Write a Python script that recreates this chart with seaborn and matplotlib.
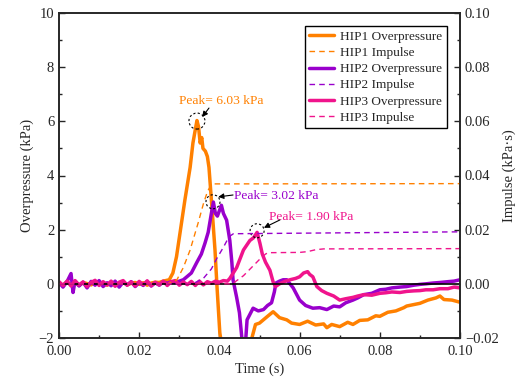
import numpy as np
import pandas as pd
import matplotlib
matplotlib.use("Agg")
import matplotlib.pyplot as plt
from matplotlib.patches import Ellipse
import seaborn as sns

# ---------------- data ----------------
# HIP1 overpressure (kPa)
t1 = [0.000, 0.001, 0.002, 0.003, 0.004, 0.005, 0.006, 0.007, 0.008, 0.009, 0.010, 0.011, 0.012,
      0.013, 0.014, 0.015, 0.016, 0.017, 0.018, 0.019, 0.020, 0.021, 0.022, 0.023, 0.024, 0.025,
      0.026, 0.0275, 0.0284, 0.0293, 0.0302, 0.0314, 0.0327, 0.0334, 0.0340, 0.0344, 0.0348,
      0.0352, 0.0356, 0.0359, 0.0365, 0.0370, 0.0374, 0.0377, 0.0382, 0.0389, 0.0394, 0.0401,
      0.0406, 0.0440, 0.0475, 0.0481, 0.0490, 0.0500, 0.0520, 0.0534, 0.0550, 0.0568, 0.0580,
      0.0600, 0.0620, 0.0640, 0.0660, 0.0668, 0.0680, 0.0700, 0.0720, 0.0733, 0.0750, 0.0770,
      0.0790, 0.0800, 0.0820, 0.0840, 0.0860, 0.0867, 0.0880, 0.0900, 0.0920, 0.0940, 0.0950,
      0.0960, 0.0980, 0.1000]
p1 = [0.02, -0.05, 0.07, -0.03, 0.04, -0.06, 0.05, 0.01, -0.04, 0.06, -0.02, 0.03, -0.05,
      0.04, 0.00, -0.03, 0.06, -0.04, 0.02, 0.05, -0.02, 0.04, -0.05, 0.03, 0.06, 0.05,
      0.10, 0.15, 0.40, 1.00, 1.90, 3.10, 4.30, 5.20, 5.70, 6.03, 5.80,
      5.20, 5.40, 5.00, 4.90, 4.70, 4.30, 3.70, 2.70, 1.25, -0.10, -1.80,
      -2.30, -3.00, -2.30, -2.00, -1.50, -1.45, -1.20, -1.03, -1.25, -1.33, -1.45,
      -1.50, -1.38, -1.52, -1.48, -1.62, -1.50, -1.58, -1.42, -1.50, -1.35, -1.33,
      -1.18, -1.20, -1.05, -1.00, -0.88, -0.82, -0.78, -0.72, -0.60, -0.52, -0.45,
      -0.58, -0.60, -0.68]

# HIP2 overpressure (kPa)
t2 = [0.000, 0.001, 0.002, 0.003, 0.0035, 0.004, 0.005, 0.006, 0.007, 0.008, 0.009, 0.010,
      0.011, 0.012, 0.013, 0.014, 0.015, 0.016, 0.017, 0.018, 0.019, 0.020, 0.021, 0.022,
      0.023, 0.024, 0.025, 0.026, 0.027, 0.028, 0.029, 0.030, 0.0310, 0.0330, 0.0344, 0.0355,
      0.0364, 0.0372, 0.0380, 0.0385, 0.0390, 0.0395, 0.0400, 0.0405, 0.0410, 0.0418, 0.0426,
      0.0431, 0.0434, 0.0443, 0.0450, 0.0456, 0.0460, 0.0465, 0.0469, 0.0477, 0.0484, 0.0497,
      0.0510, 0.0520, 0.0530, 0.0537, 0.0541, 0.0550, 0.0559, 0.0568, 0.0584, 0.0600, 0.0615,
      0.0633, 0.0650, 0.0668, 0.0685, 0.0700, 0.0715, 0.0733, 0.0745, 0.0760, 0.0780, 0.0800,
      0.0815, 0.0830, 0.0850, 0.0867, 0.0885, 0.0900, 0.0915, 0.0933, 0.0950, 0.0970, 0.0985,
      0.1000]
p2 = [0.05, -0.12, 0.08, 0.38, -0.32, 0.10, -0.08, 0.06, -0.15, 0.09, -0.05, 0.12,
      -0.10, 0.04, -0.07, 0.10, -0.12, 0.06, -0.04, 0.08, -0.10, 0.05, -0.06, 0.09,
      -0.08, 0.04, -0.05, 0.07, 0.02, 0.08, 0.05, 0.10, 0.15, 0.40, 0.80, 1.10,
      1.50, 1.90, 2.60, 3.02, 2.60, 2.50, 2.70, 2.90, 2.60, 2.35, 1.60,
      0.80, 0.15, -0.50, -1.07, -2.00, -2.60, -2.20, -1.33, -1.10, -0.90, -1.00,
      -0.95, -0.80, -0.70, -0.30, 0.03, 0.10, 0.15, 0.15, -0.15, -0.60, -0.80,
      -0.90, -0.88, -0.95, -0.82, -0.85, -0.70, -0.60, -0.52, -0.40, -0.35, -0.22,
      -0.20, -0.15, -0.12, -0.10, -0.05, -0.02, 0.00, 0.03, 0.05, 0.08, 0.10,
      0.15]

# HIP3 overpressure (kPa)
t3 = [0.000, 0.001, 0.002, 0.003, 0.004, 0.005, 0.006, 0.007, 0.008, 0.009, 0.010, 0.011,
      0.012, 0.013, 0.014, 0.015, 0.016, 0.017, 0.018, 0.019, 0.020, 0.021, 0.022, 0.023,
      0.024, 0.025, 0.026, 0.027, 0.028, 0.029, 0.030, 0.031, 0.032, 0.033, 0.034, 0.035,
      0.036, 0.037, 0.038, 0.039, 0.040, 0.041, 0.042, 0.0426, 0.0443, 0.0460, 0.0476, 0.0485,
      0.0494, 0.0501, 0.0507, 0.0515, 0.0526, 0.0534, 0.0540, 0.0550, 0.0565, 0.0576, 0.0590,
      0.0600, 0.0610, 0.0620, 0.0625, 0.0633, 0.0643, 0.0655, 0.0668, 0.0685, 0.0700, 0.0715,
      0.0733, 0.0745, 0.0760, 0.0780, 0.0800, 0.0815, 0.0830, 0.0850, 0.0867, 0.0885, 0.0900,
      0.0915, 0.0933, 0.0950, 0.0970, 0.0985, 0.1000]
p3 = [0.08, -0.06, 0.10, -0.08, 0.12, -0.04, 0.07, -0.10, 0.05, 0.13, -0.06, 0.08,
      -0.04, 0.10, -0.09, 0.06, 0.12, -0.05, 0.07, -0.08, 0.09, -0.03, 0.11, -0.07,
      0.06, -0.04, 0.10, -0.06, 0.08, 0.12, -0.05, 0.07, -0.03, 0.09, -0.06, 0.10,
      -0.04, 0.08, 0.02, 0.10, 0.06, 0.12, 0.10, 0.20, 0.60, 1.25, 1.60, 1.70,
      1.90, 1.50, 1.10, 0.80, 0.50, 0.07, -0.10, 0.00, 0.10, 0.15, 0.20,
      0.26, 0.40, 0.45, 0.35, 0.26, -0.10, -0.25, -0.35, -0.45, -0.60, -0.55,
      -0.50, -0.45, -0.40, -0.42, -0.35, -0.33, -0.30, -0.32, -0.28, -0.26, -0.25,
      -0.22, -0.22, -0.18, -0.18, -0.12, -0.15]

# Impulse (kPa·s)
ti1 = [0.000, 0.0270, 0.0280, 0.0294, 0.0310, 0.0327, 0.0347, 0.0360, 0.0370, 0.0378, 0.0384, 0.1000]
imp1 = [0.0, 0.0, 0.0005, 0.0015, 0.0060, 0.0125, 0.0225, 0.0295, 0.0340, 0.0362, 0.0369, 0.0370]
ti2 = [0.000, 0.0320, 0.0340, 0.0360, 0.0380, 0.0394, 0.0410, 0.0419, 0.0428, 0.0435, 0.0600, 0.1000]
imp2 = [0.0, 0.0, 0.0005, 0.0020, 0.0055, 0.0095, 0.0135, 0.0160, 0.0178, 0.0185, 0.0187, 0.0192]
ti3 = [0.000, 0.0425, 0.0435, 0.0460, 0.0480, 0.0500, 0.0515, 0.0522, 0.0600, 0.0620, 0.0640, 0.0660, 0.1000]
imp3 = [0.0, 0.0, 0.0003, 0.0030, 0.0060, 0.0090, 0.0110, 0.0115, 0.0116, 0.0119, 0.0126, 0.0129, 0.0130]

labels_p = ["HIP1 Overpressure", "HIP2 Overpressure", "HIP3 Overpressure"]
labels_i = ["HIP1 Impulse", "HIP2 Impulse", "HIP3 Impulse"]
colors = ["#FF8000", "#9900CC", "#F0148C"]
peaks = ["Peak= 6.03 kPa", "Peak= 3.02 kPa", "Peak= 1.90 kPa"]

# ---------------- style ----------------
sns.set_style("ticks")
plt.rcParams["font.family"] = ["Liberation Serif", "DejaVu Serif"]
plt.rcParams["axes.linewidth"] = 1.2

fig = plt.figure(figsize=(5.2, 3.87), dpi=100)
ax = fig.add_axes([59 / 520, 49 / 387, 401 / 520, 325 / 387])
ax2 = ax.twinx()

handles = []
for tt, pp, lab, c in zip([t1, t2, t3], [p1, p2, p3], labels_p, colors):
    df = pd.DataFrame({"t": tt, "p": pp})
    sns.lineplot(data=df, x="t", y="p", ax=ax, color=c, lw=2.5, sort=False,
                 estimator=None, label=lab, legend=False)
    handles.append(ax.lines[-1])

ax.axhline(0, color="black", lw=1.2, zorder=5)

ihandles = []
for tt, ii, lab, c in zip([ti1, ti2, ti3], [imp1, imp2, imp3], labels_i, colors):
    df = pd.DataFrame({"t": tt, "i": ii})
    sns.lineplot(data=df, x="t", y="i", ax=ax2, color=c, lw=1.0, sort=False,
                 estimator=None, label=lab, legend=False, dashes=False)
    ln = ax2.lines[-1]
    ln.set_linestyle((0, (4, 3)))
    ihandles.append(ln)

ax.set_xlim(0, 0.10)
ax.set_ylim(-2, 10)
ax2.set_ylim(-0.02, 0.10)
ax.set_xticks([0.00, 0.02, 0.04, 0.06, 0.08, 0.10])
ax.set_xticklabels(["0.00", "0.02", "0.04", "0.06", "0.08", "0.10"])
ax.set_xticks([0.01, 0.03, 0.05, 0.07, 0.09], minor=True)
ax.set_yticks([-2, 0, 2, 4, 6, 8, 10])
ax.set_yticklabels(["\u22122", "0", "2", "4", "6", "8", "10"])
ax.set_yticks([-1, 1, 3, 5, 7, 9], minor=True)
ax2.set_yticks([-0.02, 0.00, 0.02, 0.04, 0.06, 0.08, 0.10])
ax2.set_yticklabels(["\u22120.02", "0.00", "0.02", "0.04", "0.06", "0.08", "0.10"])
ax2.set_yticks([-0.01, 0.01, 0.03, 0.05, 0.07, 0.09], minor=True)

for a in (ax, ax2):
    a.tick_params(which="major", direction="in", length=4.3, width=1.0, labelsize=10.5)
    a.tick_params(which="minor", direction="in", length=2.0, width=1.0)
    for s in a.spines.values():
        s.set_linewidth(1.2)
ax.tick_params(axis="x", pad=5)

ax.set_xlabel("Time (s)", fontsize=10.5, labelpad=3)
ax.set_ylabel("Overpressure (kPa)", fontsize=10.5, labelpad=3)
ax2.set_ylabel("Impulse (kPa\u00b7s)", fontsize=10.5, labelpad=3)

# peak markers and annotations
circ = [(0.0344, 6.01, 8), (0.0384, 3.03, 7), (0.0494, 1.96, 7)]
txt = [(0.0299, 6.75), (0.0436, 3.25), (0.0524, 2.47)]
arr_from = [(0.0374, 6.49), (0.0434, 3.28), (0.0551, 2.36)]
arr_to = [(0.0357, 6.16), (0.0397, 3.21), (0.0511, 2.07)]
for (cx, cy, r), (tx, ty), af, at, lab, c in zip(circ, txt, arr_from, arr_to, peaks, colors):
    w = 2 * r * 0.10 / 401
    h = 2 * r * 12 / 325
    ax.add_patch(Ellipse((cx, cy), w, h, fill=False, ec="black", lw=0.8,
                         ls=(0, (2, 2)), zorder=6))
    ax.text(tx, ty, lab, color=c, fontsize=9.7, ha="left", va="center", zorder=7)
    ax.annotate("", xy=at, xytext=af,
                arrowprops=dict(arrowstyle="-|>", color="black", lw=0.8,
                                mutation_scale=8, shrinkA=0, shrinkB=0), zorder=7)

order = [handles[0], ihandles[0], handles[1], ihandles[1], handles[2], ihandles[2]]
leg = ax2.legend(order, [h.get_label() for h in order], loc="upper right",
                 bbox_to_anchor=(0.9676, 0.96), borderaxespad=0, fontsize=9.5,
                 frameon=True, fancybox=False, edgecolor="black", framealpha=1,
                 labelspacing=0.3, handlelength=1.9, handletextpad=0.45,
                 borderpad=0.35)
leg.get_frame().set_linewidth(1.0)

fig.savefig("out.png", dpi=100)
